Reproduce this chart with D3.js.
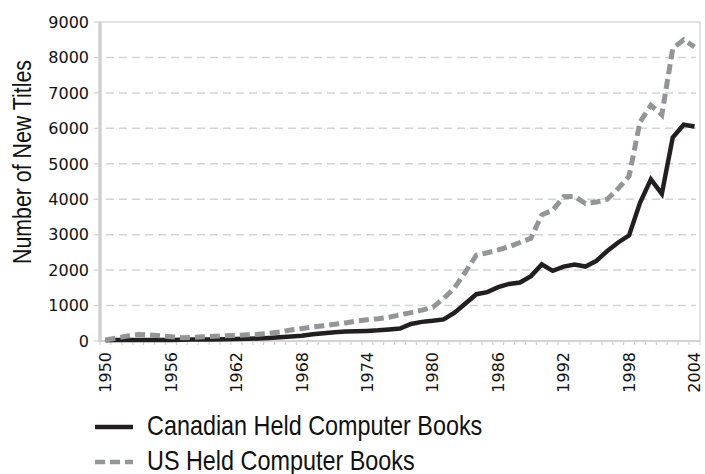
<!DOCTYPE html>
<html>
<head>
<meta charset="utf-8">
<script src="https://cdn.jsdelivr.net/npm/d3@7"></script>
<style>
  body { margin: 0; background: #fff; }
  svg { display: block; }
</style>
</head>
<body>
<svg width="705" height="474"></svg>
<script>
// years 1950..2004, one value per year
var years = d3.range(1950, 2005);
var tickYears = [1950, 1956, 1962, 1968, 1974, 1980, 1986, 1992, 1998, 2004];
var yTicks = [0, 1000, 2000, 3000, 4000, 5000, 6000, 7000, 8000, 9000];

var canadian = [20, 25, 30, 30, 30, 30, 30, 35, 40, 40,
  45, 50, 55, 60, 70, 85, 105, 125, 150, 190,
  220, 250, 265, 275, 285, 300, 325, 350, 480, 540,
  570, 610, 800, 1060, 1320, 1380, 1520, 1610, 1650, 1830,
  2160, 1980, 2100, 2160, 2100, 2260, 2540, 2780, 2980, 3900,
  4560, 4150, 5740, 6100, 6050];

var us = [30, 80, 140, 180, 170, 150, 120, 95, 100, 120,
  135, 150, 160, 175, 190, 215, 255, 310, 350, 395,
  430, 470, 510, 560, 600, 630, 670, 740, 800, 870,
  950, 1200, 1500, 1950, 2420, 2490, 2570, 2660, 2780, 2900,
  3560, 3690, 4070, 4080, 3880, 3920, 4000, 4300, 4650, 6180,
  6650, 6380, 8250, 8500, 8300];

var seriesNames = ["Canadian Held Computer Books", "US Held Computer Books"];

var svg = d3.select("svg");
var plotL = 100, plotR = 700, plotT = 22, plotB = 341;
var tickFont = "'DejaVu Sans', sans-serif";
var labelFont = "'Liberation Sans', sans-serif";

var x = d3.scaleBand().domain(years).range([plotL, plotR]).padding(0);
var cx = function(yr) { return x(yr) + x.bandwidth() / 2; };
var y = d3.scaleLinear().domain([0, 9000]).range([plotB, plotT]);

// squeeze a text horizontally (narrow face is not installed)
function narrow(sel, k) {
  sel.each(function() {
    var w = this.getComputedTextLength();
    d3.select(this)
      .attr("textLength", w * k)
      .attr("lengthAdjust", "spacingAndGlyphs");
  });
}

// gridlines
svg.append("g")
  .selectAll("line")
  .data(yTicks.filter(function(d) { return d > 0 && d < 9000; }))
  .enter().append("line")
  .attr("x1", plotL + 6).attr("x2", plotR - 4)
  .attr("y1", function(d) { return y(d); })
  .attr("y2", function(d) { return y(d); })
  .attr("stroke", "#d4d4d4")
  .attr("stroke-width", 1.5)
  .attr("stroke-dasharray", "8,5");

// frame top / right
svg.append("path")
  .attr("d", "M" + plotL + "," + plotT + "H" + plotR + "V" + plotB)
  .attr("fill", "none")
  .attr("stroke", "#d9d9d9")
  .attr("stroke-width", 1.5);

// x axis line and category ticks
svg.append("line")
  .attr("x1", plotL).attr("x2", plotR)
  .attr("y1", plotB).attr("y2", plotB)
  .attr("stroke", "#d4d4d4").attr("stroke-width", 2);

svg.append("g")
  .selectAll("line")
  .data(years.concat([2005]))
  .enter().append("line")
  .attr("x1", function(d, i) { return plotL + i * x.bandwidth(); })
  .attr("x2", function(d, i) { return plotL + i * x.bandwidth(); })
  .attr("y1", plotB).attr("y2", plotB + 4)
  .attr("stroke", "#d4d4d4").attr("stroke-width", 1.2);

// y axis line and ticks
svg.append("line")
  .attr("x1", plotL).attr("x2", plotL)
  .attr("y1", plotT).attr("y2", plotB + 1)
  .attr("stroke", "#d0d0d0").attr("stroke-width", 3.5);

svg.append("g")
  .selectAll("line")
  .data(yTicks)
  .enter().append("line")
  .attr("x1", plotL - 6).attr("x2", plotL)
  .attr("y1", function(d) { return y(d); })
  .attr("y2", function(d) { return y(d); })
  .attr("stroke", "#d0d0d0").attr("stroke-width", 1.2);

// y tick labels
svg.append("g")
  .selectAll("text")
  .data(yTicks)
  .enter().append("text")
  .attr("x", 89)
  .attr("y", function(d) { return y(d); })
  .attr("dy", "0.36em")
  .attr("text-anchor", "end")
  .style("font-family", tickFont)
  .style("font-size", "16px")
  .attr("fill", "#111")
  .text(function(d) { return d; });

// x tick labels (rotated)
svg.append("g")
  .selectAll("text")
  .data(tickYears)
  .enter().append("text")
  .attr("transform", function(d) { return "translate(" + cx(d) + ",352) rotate(-90)"; })
  .attr("dy", "0.36em")
  .attr("text-anchor", "end")
  .style("font-family", tickFont)
  .style("font-size", "16px")
  .attr("fill", "#111")
  .text(function(d) { return d; });

// y axis title
svg.append("text")
  .attr("transform", "translate(31,162) rotate(-90)")
  .attr("text-anchor", "middle")
  .style("font-family", labelFont)
  .style("font-size", "26px")
  .attr("fill", "#111")
  .text("Number of New Titles")
  .call(narrow, 0.82);

// series lines
var line = d3.line()
  .x(function(d, i) { return cx(years[i]); })
  .y(function(d) { return y(d); });

svg.append("path")
  .datum(canadian)
  .attr("d", line)
  .attr("fill", "none")
  .attr("stroke", "#231f20")
  .attr("stroke-width", 4.5)
  .attr("stroke-linejoin", "miter");

svg.append("path")
  .datum(us)
  .attr("d", line)
  .attr("fill", "none")
  .attr("stroke", "#939598")
  .attr("stroke-width", 5)
  .attr("stroke-dasharray", "10,5");

// legend
var legend = svg.append("g");
var legendRows = [
  { name: seriesNames[0], color: "#231f20", dash: null, y: 427 },
  { name: seriesNames[1], color: "#939598", dash: "10,5", y: 462 }
];
legendRows.forEach(function(r) {
  legend.append("line")
    .attr("x1", 95).attr("x2", 133)
    .attr("y1", r.y).attr("y2", r.y)
    .attr("stroke", r.color)
    .attr("stroke-width", 4.5)
    .attr("stroke-dasharray", r.dash);
  legend.append("text")
    .attr("x", 147).attr("y", r.y + 8)
    .style("font-family", labelFont)
    .style("font-size", "28px")
    .attr("fill", "#111")
    .text(r.name)
    .call(narrow, 0.835);
});
</script>
</body>
</html>
